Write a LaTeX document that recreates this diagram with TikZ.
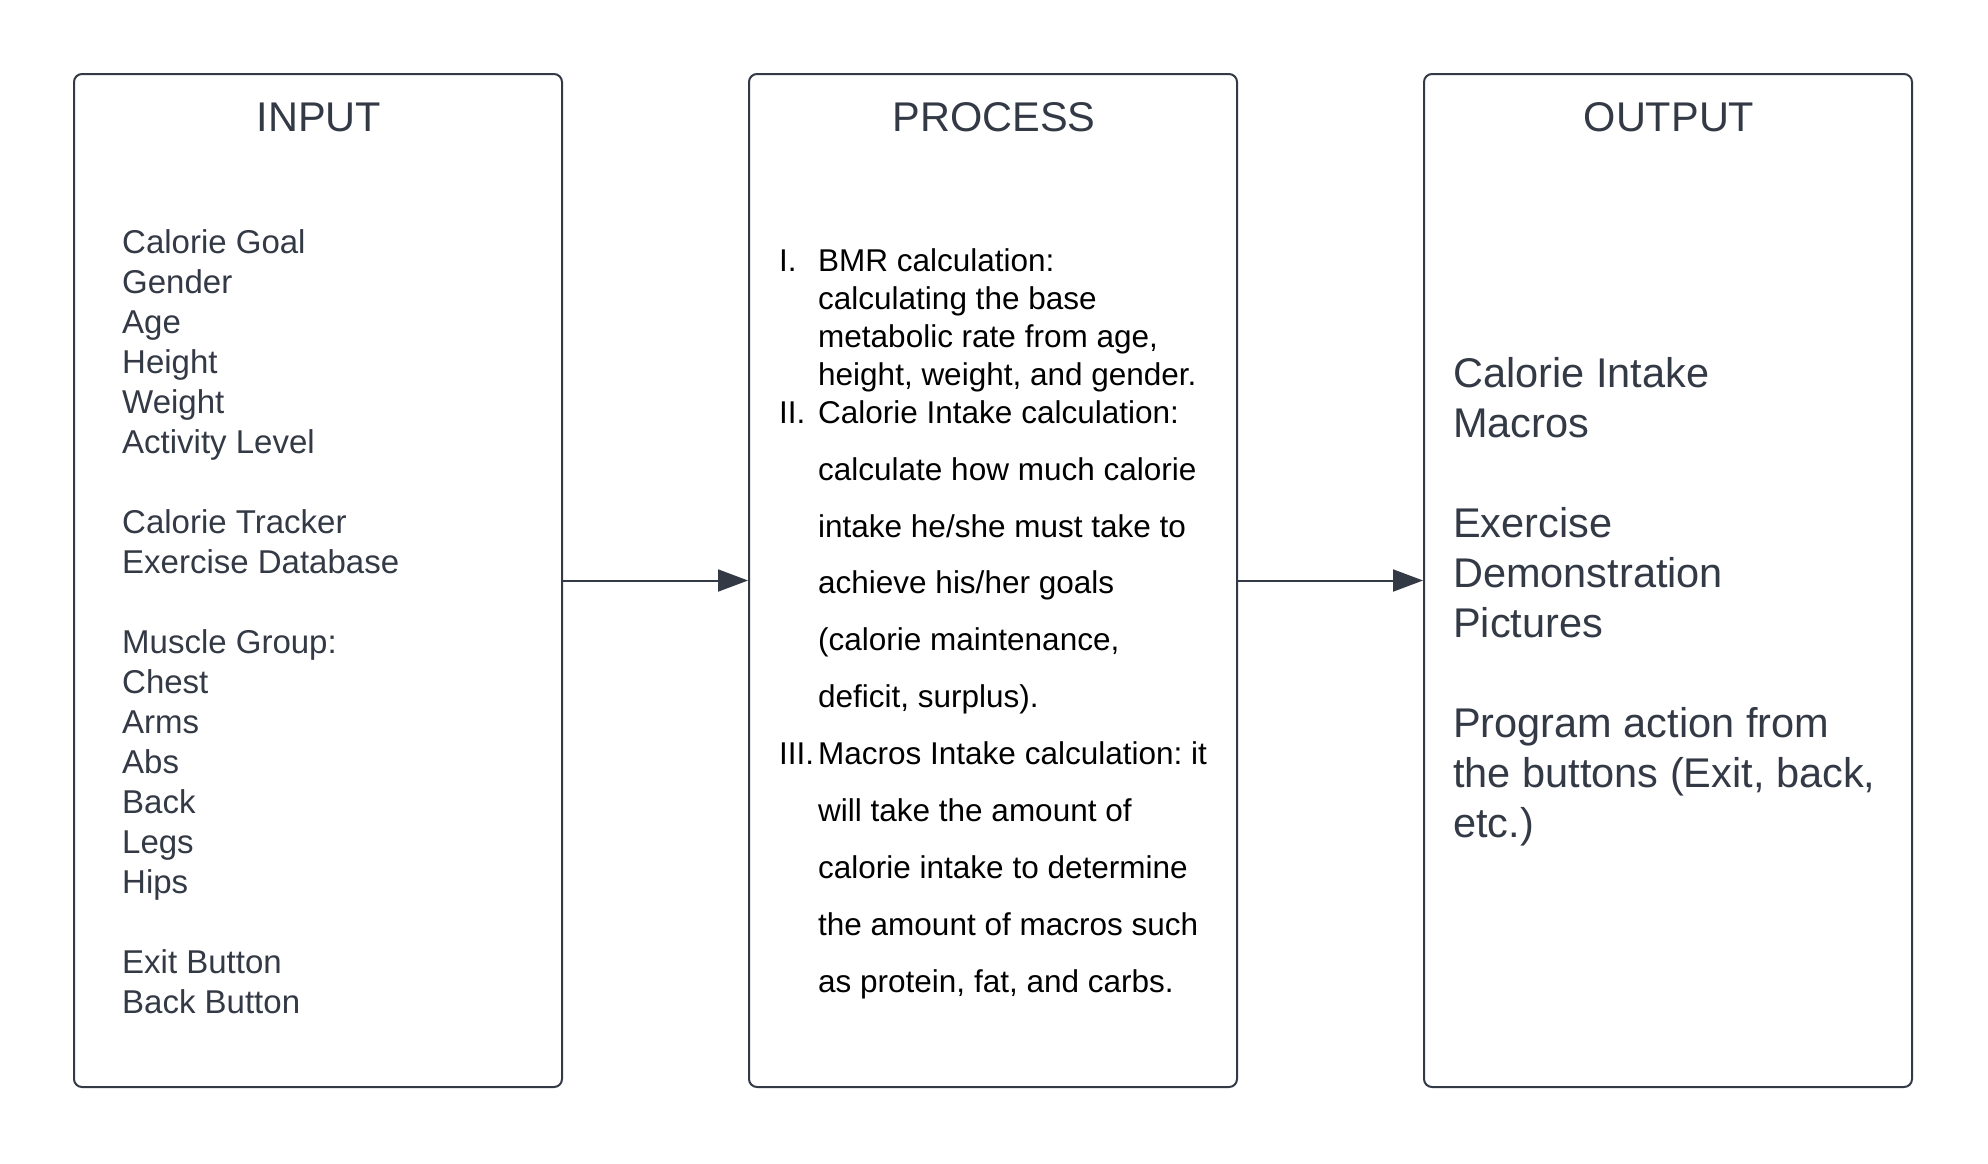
\documentclass[tikz,border=0pt]{standalone}
\usepackage{fontspec}
\setmainfont{Liberation Sans}
\usetikzlibrary{arrows.meta}
\definecolor{ink}{RGB}{51,58,69}
\frenchspacing
\begin{document}
\begin{tikzpicture}[x=1pt,y=-1pt,
  panel/.style={draw=ink, line width=2pt, rounded corners=8pt, minimum width=488pt, minimum height=1013pt, inner sep=0pt},
  title/.style={anchor=base, text=ink, font=\fontsize{41.5}{49}\selectfont, inner sep=0pt},
  inlabel/.style={anchor=base west, text=ink, font=\fontsize{33}{40}\selectfont, inner sep=0pt},
  prlabel/.style={anchor=base west, text=black, font=\fontsize{31.5}{37}\selectfont, inner sep=0pt},
  outlabel/.style={anchor=base west, text=ink, font=\fontsize{41.5}{49}\selectfont, inner sep=0pt},
  conn/.style={draw=ink, line width=2pt, -{Triangle[length=30pt,width=22pt]}}
]
\fill[white] (0,0) rectangle (1988,1163);
\useasboundingbox (0,0) rectangle (1988,1163);

\node[panel] (inbox) at (318,580.5) {};
\node[panel] (procbox) at (993,580.5) {};
\node[panel] (outbox) at (1668,580.5) {};

\node[title] (intitle) at (319,131) {INPUT};
\node[title] (prtitle) at (994,131) {PROCESS};
\node[title] (outtitle) at (1669,131) {OUTPUT};

\foreach \y/\t [count=\k] in {253/Calorie Goal, 293/Gender, 333/Age, 373/Height, 413/Weight, 453/Activity Level,
  533/Calorie Tracker, 573/Exercise Database,
  653/Muscle Group:, 693/Chest, 733/Arms, 773/Abs, 813/Back, 853/Legs, 893/Hips,
  973/Exit Button, 1013/Back Button}
  \node[inlabel] (in\k) at (122,\y) {\t};

\node[prlabel] (pn1) at (779,271) {I.};
\node[prlabel] (pn2) at (779,423) {II.};
\node[prlabel] (pn3) at (779,764) {III.};
\foreach \y/\t [count=\k] in {271/{BMR calculation:}, 309/{calculating the base}, 347/{metabolic rate from age,}, 385/{height, weight, and gender.},
  423/{Calorie Intake calculation:}, 480/{calculate how much calorie}, 537/{intake he/she must take to}, 593/{achieve his/her goals},
  650/{(calorie maintenance,}, 707/{deficit, surplus).}, 764/{Macros Intake calculation: it}, 821/{will take the amount of},
  878/{calorie intake to determine}, 935/{the amount of macros such}, 992/{as protein, fat, and carbs.}}
  \node[prlabel] (pr\k) at (818,\y) {\t};

\foreach \y/\t [count=\k] in {387/{Calorie Intake}, 437/{Macros}, 537/{Exercise}, 587/{Demonstration}, 637/{Pictures},
  737/{Program action from}, 787/{the buttons (Exit, back,}, 837/{etc.)}}
  \node[outlabel] (out\k) at (1453,\y) {\t};

\draw[conn] (inbox.east) -- (procbox.west);
\draw[conn] (procbox.east) -- (outbox.west);
\end{tikzpicture}
\end{document}
